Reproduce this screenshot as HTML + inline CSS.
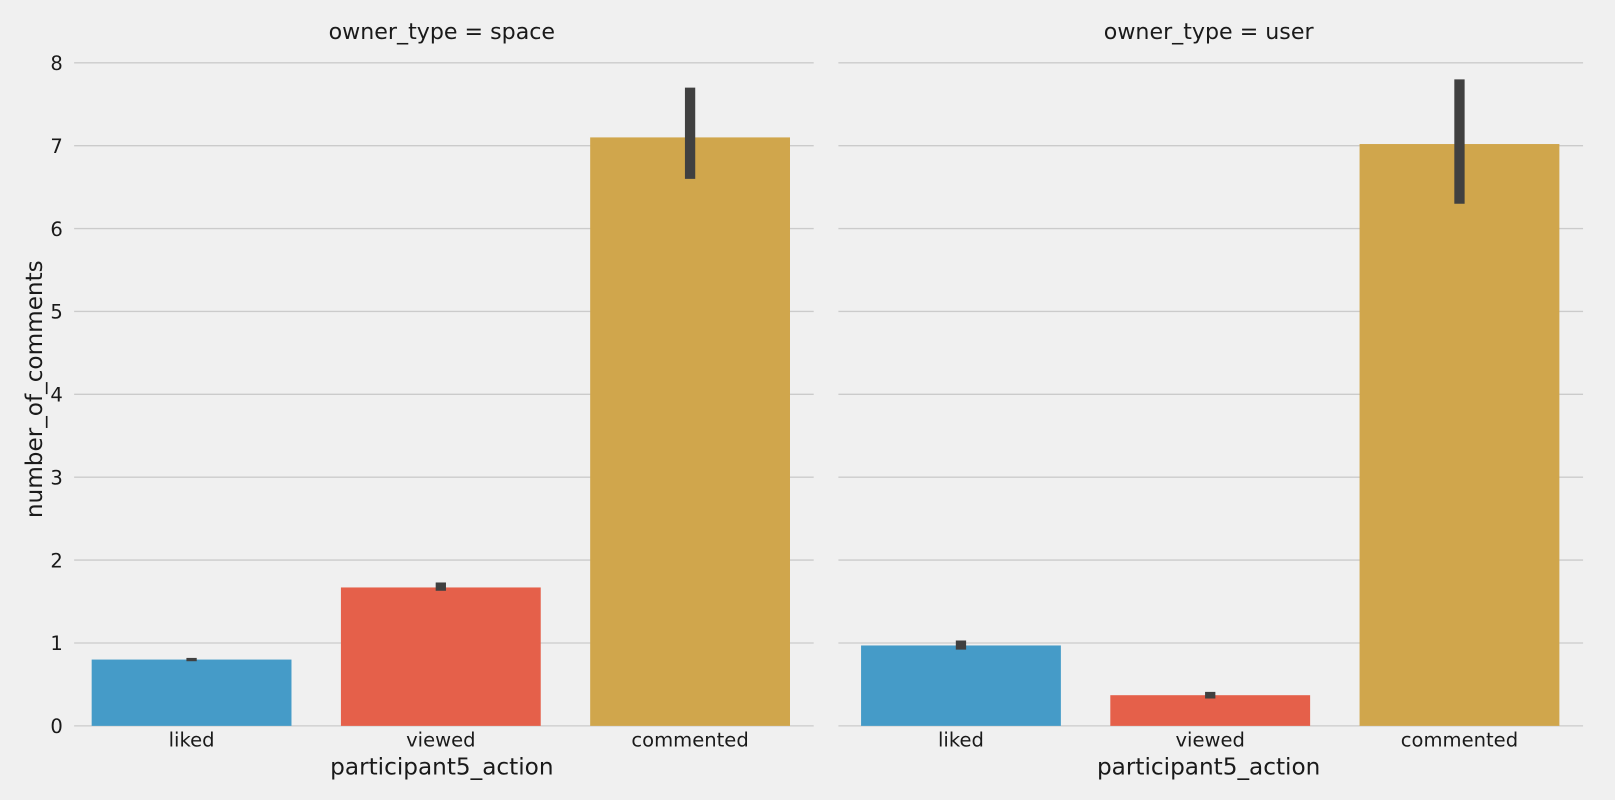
<!DOCTYPE html>
<html><head><meta charset="utf-8"><style>
html,body{margin:0;padding:0;background:#f0f0f0;}
svg{display:block;font-family:"DejaVu Sans","Liberation Sans",sans-serif;}
</style></head><body>
<svg id="chart" width="1615" height="800" viewBox="0 0 1568 777" preserveAspectRatio="none" xmlns="http://www.w3.org/2000/svg">
<rect width="1568" height="777" fill="#f0f0f0"/>
<g id="plot"></g>
</svg>
<script>
const categories = ["liked","viewed","commented"];
const panels = ["space","user"];
const spaceValues = [0.8, 1.67, 7.1];
const spaceLow = [0.78, 1.63, 6.6];
const spaceHigh = [0.82, 1.73, 7.7];
const userValues = [0.97, 0.37, 7.02];
const userLow = [0.92, 0.33, 6.3];
const userHigh = [1.03, 0.41, 7.8];
const yTicks = [0,1,2,3,4,5,6,7,8];
const colors = ["#459bc8","#e5604a","#d0a64c"];

const NS = "http://www.w3.org/2000/svg";
const g = document.getElementById("plot");
function mk(tag, attrs, parent){ const e=document.createElementNS(NS,tag); for(const k in attrs) e.setAttribute(k,attrs[k]); (parent||g).appendChild(e); return e; }
const y = v => 705 - v*(705-61)/8;
const gridX0 = [72, 814], gridX1 = [790, 1537];
const barX0 = [65, 812], step = 242;
const data = [[spaceValues,spaceLow,spaceHigh],[userValues,userLow,userHigh]];

panels.forEach((p, pi) => {
  const xc = i => barX0[pi] + step*(i+0.5);
  yTicks.forEach(t => {
    const l = mk("line",{x1:gridX0[pi],x2:gridX1[pi],y1:y(t),y2:y(t),stroke:"#cbcbcb","stroke-width":1.3});
    
    
    if (pi===0){
      const tx = mk("text",{x:61,y:y(t)+7,"text-anchor":"end","font-size":19,fill:"#1a1a1a"});
      tx.textContent = t;
      
      
    }
  });
  const mid = (gridX0[pi]+gridX1[pi])/2;
  const title = mk("text",{x:mid-2,y:38,"text-anchor":"middle","font-size":21.5,fill:"#1a1a1a"});
  title.textContent = "owner_type = " + p;
  
  
  const [vals, lo, hi] = data[pi];
  categories.forEach((c, i) => {
    const bw = 194;
    const r = mk("rect",{x:xc(i)-bw/2,y:y(vals[i]),width:bw,height:y(0)-y(vals[i]),fill:colors[i]});
    
    
    const e = mk("line",{x1:xc(i),x2:xc(i),y1:y(lo[i]),y2:y(hi[i]),stroke:"#404040","stroke-width":10});
    
    
    const tl = mk("text",{x:xc(i),y:725,"text-anchor":"middle","font-size":19,fill:"#1a1a1a"});
    tl.textContent = c;
    
    
  });
  const xl = mk("text",{x:mid-2,y:752,"text-anchor":"middle","font-size":22.5,fill:"#1a1a1a"});
  xl.textContent = "participant5_action";
  
  
});
const yl = mk("text",{x:0,y:0,"text-anchor":"middle","font-size":22.5,fill:"#1a1a1a",transform:"translate(41,378) rotate(-90)"});
yl.textContent = "number_of_comments";


</script>
</body></html>
